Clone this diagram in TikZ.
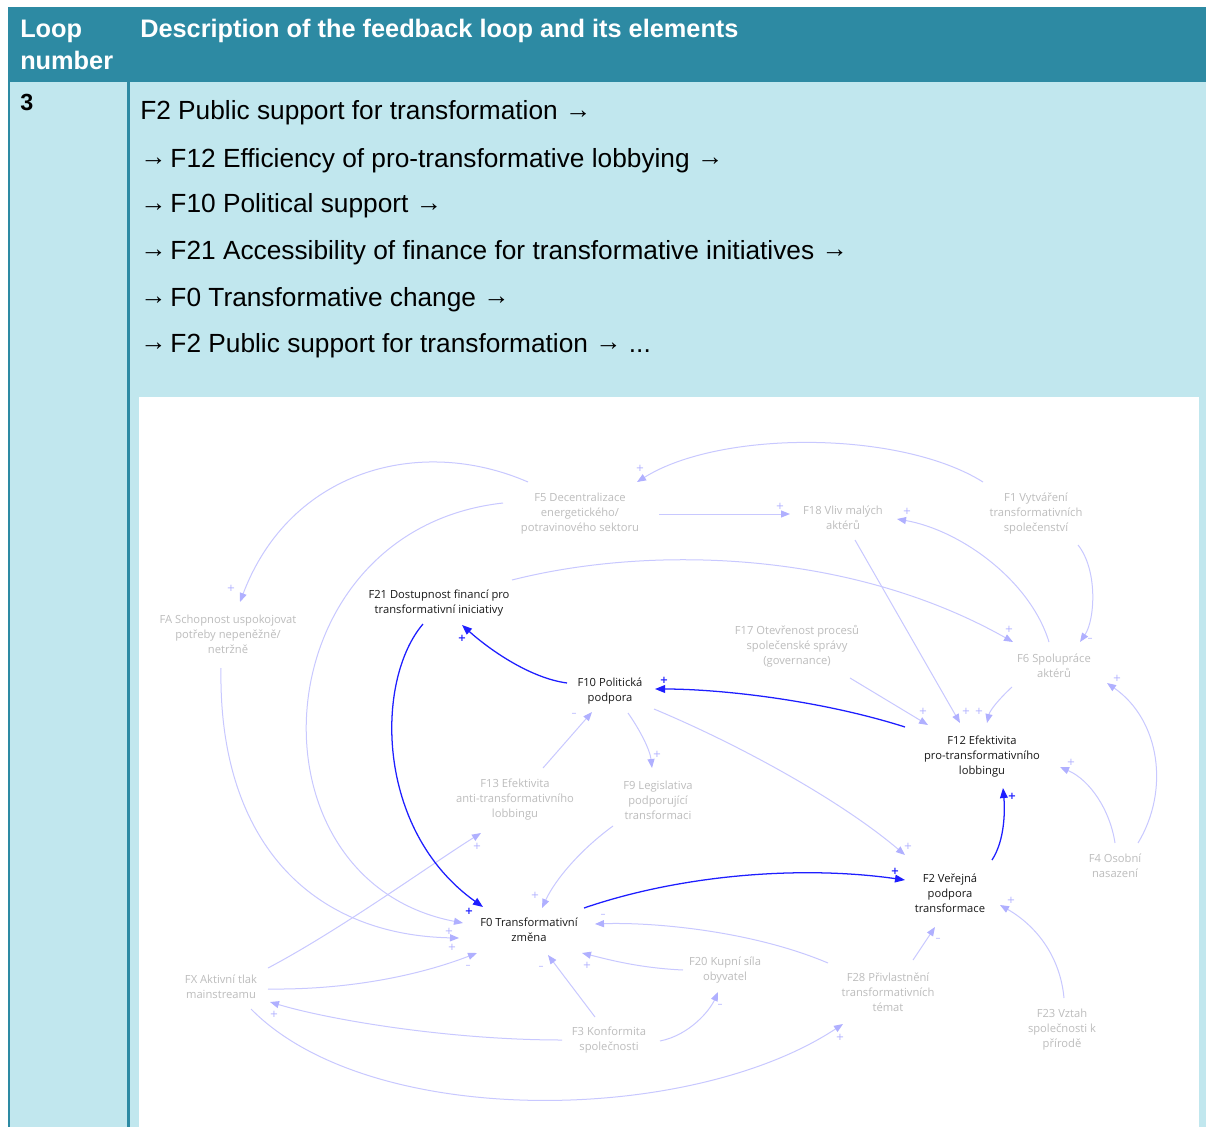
\documentclass[tikz,border=0pt]{standalone}
\usepackage{fontspec}
\setmainfont{Liberation Sans}
\newfontfamily\dfont{Open Sans}
\newfontfamily\sfont{DejaVu Sans}
\usetikzlibrary{arrows.meta,calc}
\definecolor{hdr}{HTML}{2D8AA3}
\definecolor{bodyc}{HTML}{C1E7EE}
\definecolor{lineE}{HTML}{C8C8FF}
\definecolor{tipE}{HTML}{B0B0FF}
\definecolor{darkE}{HTML}{1E1EFF}
\definecolor{grayT}{HTML}{BDBDBD}
\newcommand{\rarr}{\raisebox{1.2pt}{→}}
\newcommand{\larr}{\rarr\kern-2.5pt\ }
\begin{document}
\begin{tikzpicture}[x=0.75pt,y=-0.75pt,
  hdrtext/.style={font=\bfseries\fontsize{19}{22}\selectfont, text=white, inner sep=0, anchor=base west},
  rowtext/.style={font=\fontsize{19.7}{23}\selectfont, text=black, inner sep=0, anchor=base west},
  gtext/.style={font=\dfont\fontsize{8.4}{11.25}\selectfont, text=grayT, align=center, inner sep=0},
  btext/.style={font=\dfont\fontsize{8.4}{11.25}\selectfont, text=black!90, align=center, inner sep=0},
  le/.style={draw=lineE, line width=0.75pt, -{Triangle[length=6.75pt,width=5.25pt,color=tipE]}},
  de/.style={draw=darkE, line width=0.95pt, -{Triangle[length=7.5pt,width=5.8pt,color=darkE]}},
  sl/.style={font=\sfont\fontsize{7.5}{8}\selectfont, text=tipE, inner sep=0},
  sd/.style={font=\sfont\bfseries\fontsize{7.5}{8}\selectfont, text=darkE, inner sep=0}]
\useasboundingbox (0,0) rectangle (1206,1127);
% table
\fill[hdr] (8,7) rectangle (1206,82);
\fill[bodyc] (8,82) rectangle (1206,1127);
\fill[hdr] (7.5,82) rectangle (10,1127);
\fill[hdr] (127,82) rectangle (129.5,1127);
\fill[white] (139,397) rectangle (1199,1127);
\node[hdrtext] (hLoop) at (20,38) {Loop};
\node[hdrtext] (hNum) at (20,70) {number};
\node[hdrtext] (hDesc) at (140,38) {Description of the feedback loop and its elements};
\node[rowtext, font=\bfseries\fontsize{17.5}{20}\selectfont] (n3) at (20,111) {3};
\node[rowtext] (r1) at (140,120) {F2 Public support for transformation \rarr};
\node[rowtext] (r2) at (140,167) {\larr F12 Efficiency of pro-transformative lobbying \rarr};
\node[rowtext] (r3) at (140,213) {\larr F10 Political support \rarr};
\node[rowtext] (r4) at (140,259) {\larr F21 Accessibility of finance for transformative initiatives \rarr};
\node[rowtext] (r5) at (140,306) {\larr F0 Transformative change \rarr};
\node[rowtext] (r6) at (140,352) {\larr F2 Public support for transformation \rarr{} ...};
% diagram nodes
\node[gtext] (F5) at (580,514) {F5 Decentralizace\\energetického/\\potravinového sektoru};
\node[gtext] (F18) at (843,518) {F18 Vliv malých\\aktérů};
\node[gtext] (F1) at (1036,514) {F1 Vytváření\\transformativních\\společenství};
\node[gtext] (FA) at (228,634) {FA Schopnost uspokojovat\\potřeby nepeněžně/\\netržně};
\node[btext] (F21) at (439,603) {F21 Dostupnost financí pro\\transformativní iniciativy};
\node[gtext] (F17) at (797,646) {F17 Otevřenost procesů\\společenské správy\\(governance)};
\node[gtext] (F6) at (1054,666) {F6 Spolupráce\\aktérů};
\node[btext] (F10) at (610,691) {F10 Politická\\podpora};
\node[btext] (F12) at (982,757) {F12 Efektivita\\pro-transformativního\\lobbingu};
\node[gtext] (F13) at (515,800) {F13 Efektivita\\anti-transformativního\\lobbingu};
\node[gtext] (F9) at (658,800) {F9 Legislativa\\podporující\\transformaci};
\node[gtext] (F4) at (1115,866) {F4 Osobní\\nasazení};
\node[btext] (F2) at (950,893) {F2 Veřejná\\podpora\\transformace};
\node[btext] (F0) at (529,930) {F0 Transformativní\\změna};
\node[gtext] (FX) at (221,987) {FX Aktivní tlak\\mainstreamu};
\node[gtext] (F20) at (725,970) {F20 Kupní síla\\obyvatel};
\node[gtext] (F28) at (888,992) {F28 Přivlastnění\\transformativních\\témat};
\node[gtext] (F3) at (609,1040) {F3 Konformita\\společnosti};
\node[gtext] (F23) at (1062,1030) {F23 Vztah\\společnosti k\\přírodě};
% light connectors
\draw[le] ($(F1)+(-53,-32)$) .. controls (900,430) and (720,430) .. ($(F5)+(57,-32)$);
\draw[le] ($(F5)+(-52,-32)$) .. controls (420,435) and (290,470) .. ($(FA)+(12,-32)$);
\draw[le] ($(F5)+(-77,-11)$) .. controls (260,530) and (240,880) .. ($(F0)+(-66,-7)$);
\draw[le] ($(FA)+(-7,34)$) .. controls (218,840) and (310,935) .. ($(F0)+(-70,8)$);
\draw[le] ($(FX)+(47,2)$) .. controls (350,990) and (420,975) .. ($(F0)+(-52,23)$);
\draw[le] ($(FX)+(47,-19)$) .. controls (340,930) and (430,865) .. ($(F13)+(-34,33)$);
\draw[le] ($(F5)+(79,0)$) -- ($(F18)+(-53,-4)$);
\draw[le] ($(F6)+(-5,-24)$) .. controls (1030,580) and (960,530) .. ($(F18)+(54,1)$);
\draw[le] ($(F1)+(42,31)$) .. controls (1098,570) and (1095,620) .. ($(F6)+(26,-24)$);
\draw[le] ($(F21)+(73,-23)$) .. controls (650,545) and (850,550) .. ($(F6)+(-41,-24)$);
\draw[le] ($(F18)+(12,22)$) -- ($(F12)+(-22,-34)$);
\draw[le] ($(F17)+(53,32)$) -- ($(F12)+(-54,-32)$);
\draw[le] ($(F6)+(-42,21)$) .. controls (1000,698) and (990,710) .. ($(F12)+(5,-34)$);
\draw[le] ($(F10)+(44,18)$) .. controls (740,745) and (840,800) .. ($(F2)+(-45,-38)$);
\draw[le] ($(F4)+(0,-23)$) .. controls (1110,810) and (1090,780) .. ($(F12)+(78,10)$);
\draw[le] ($(F4)+(23,-23)$) .. controls (1170,790) and (1160,720) .. ($(F6)+(53,17)$);
\draw[le] ($(F23)+(2,-32)$) .. controls (1060,955) and (1035,925) .. ($(F2)+(50,12)$);
\draw[le] ($(F28)+(25,-32)$) -- ($(F2)+(-15,34)$);
\draw[le] ($(F28)+(-60,-29)$) .. controls (750,930) and (650,922) .. ($(F0)+(66,-6)$);
\draw[le] ($(F20)+(-42,0)$) .. controls (640,968) and (610,960) .. ($(F0)+(53,23)$);
\draw[le] ($(F3)+(-14,-23)$) -- ($(F0)+(19,25)$);
\draw[le] ($(F3)+(51,1)$) .. controls (690,1035) and (710,1010) .. ($(F20)+(-7,22)$);
\draw[le] ($(F3)+(-47,0)$) .. controls (450,1040) and (330,1020) .. ($(FX)+(49,15)$);
\draw[le] ($(FX)+(30,22)$) .. controls (370,1130) and (690,1125) .. ($(F28)+(-45,32)$);
\draw[le] ($(F9)+(-45,26)$) .. controls (580,850) and (555,880) .. ($(F0)+(13,-22)$);
\draw[le] ($(F10)+(18,22)$) .. controls (640,730) and (650,750) .. ($(F9)+(-6,-32)$);
\draw[le] ($(F13)+(28,-32)$) -- ($(F10)+(-18,21)$);
% dark loop connectors
\draw[de] ($(F21)+(-16,21)$) .. controls (375,680) and (375,830) .. ($(F0)+(-46,-23)$);
\draw[de] ($(F10)+(-43,-8)$) .. controls (530,678) and (490,650) .. ($(F21)+(23,22)$);
\draw[de] ($(F12)+(-77,-30)$) .. controls (820,700) and (720,689) .. ($(F10)+(45,-2)$);
\draw[de] ($(F2)+(42,-33)$) .. controls (1005,840) and (1005,810) .. ($(F12)+(21,31)$);
\draw[de] ($(F0)+(55,-22)$) .. controls (680,875) and (800,865) .. ($(F2)+(-45,-13)$);
% polarity signs
\node[sl] (s1) at (640,468) {+};
\node[sl] (s2) at (231,588) {+};
\node[sl] (s3) at (449,931) {+};
\node[sl] (s4) at (452,947) {+};
\node[sl] (s5) at (468,967) {–};
\node[sl] (s6) at (477,846) {+};
\node[sl] (s7) at (780,506) {+};
\node[sl] (s8) at (907,511) {+};
\node[sl] (s9) at (1090,640) {–};
\node[sl] (s10) at (1009,629) {+};
\node[sl] (s11) at (966,711) {+};
\node[sl] (s12) at (923,711) {+};
\node[sl] (s13) at (979,711) {+};
\node[sl] (s14) at (908,846) {+};
\node[sl] (s15) at (1071,762) {+};
\node[sl] (s16) at (1117,678) {+};
\node[sl] (s17) at (1011,900) {+};
\node[sl] (s18) at (938,940) {–};
\node[sl] (s19) at (603,916) {–};
\node[sl] (s20) at (587,965) {+};
\node[sl] (s21) at (541,968) {–};
\node[sl] (s22) at (720,1006) {–};
\node[sl] (s23) at (274,1014) {+};
\node[sl] (s24) at (840,1037) {+};
\node[sl] (s25) at (535,895) {+};
\node[sl] (s26) at (657,754) {+};
\node[sl] (s27) at (574,715) {–};
\node[sd] (d1) at (469,911) {+};
\node[sd] (d2) at (462,638) {+};
\node[sd] (d3) at (664,680) {+};
\node[sd] (d4) at (1012,796) {+};
\node[sd] (d5) at (895,871) {+};
\end{tikzpicture}
\end{document}
